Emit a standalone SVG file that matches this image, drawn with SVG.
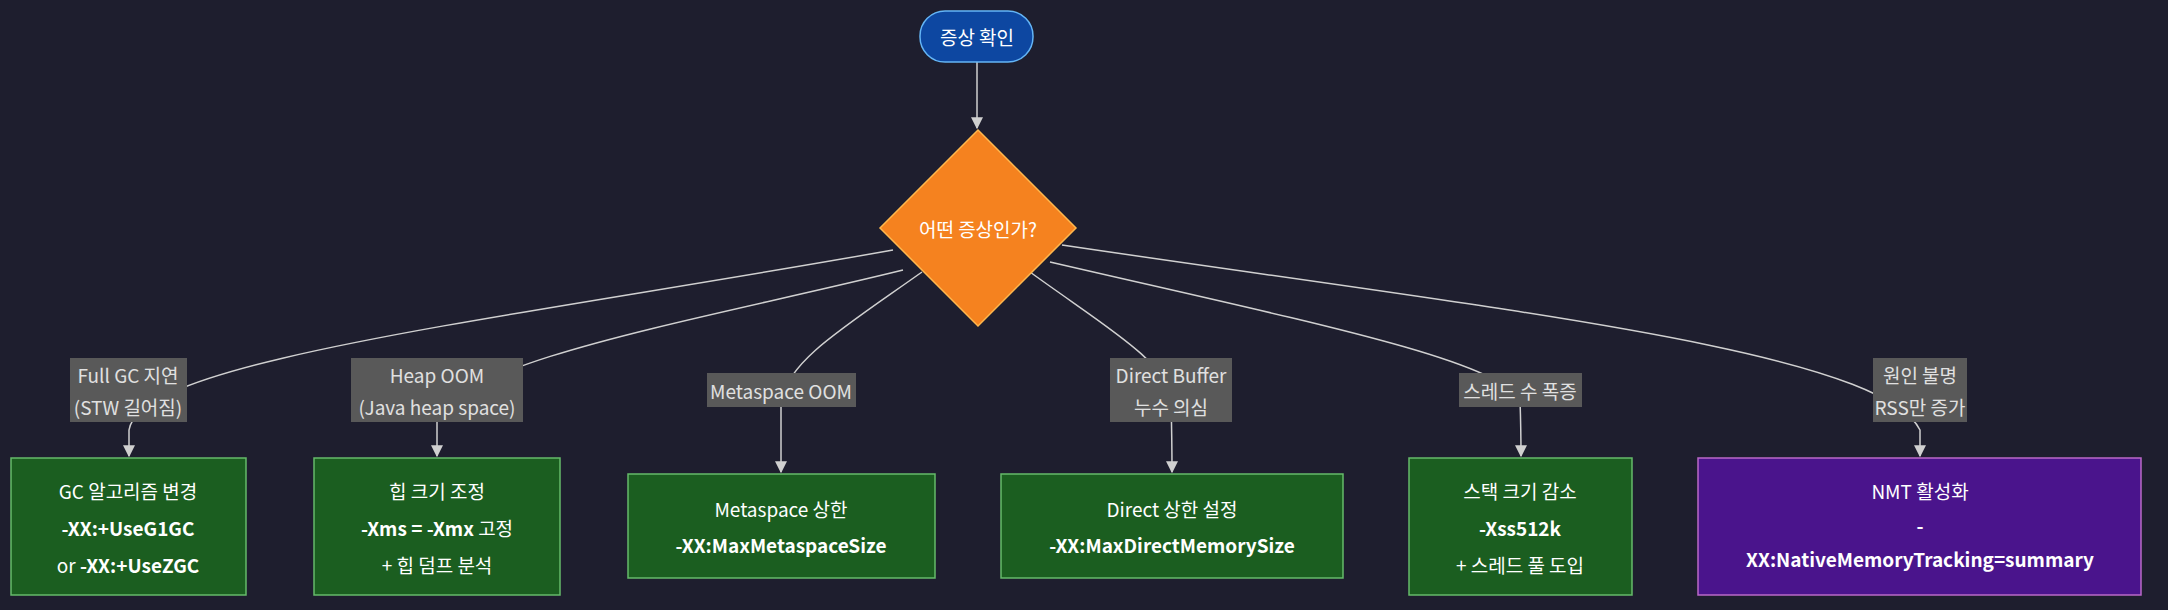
<svg xmlns="http://www.w3.org/2000/svg" width="2168" height="610" viewBox="0 0 2168 610">
<style>
text{font-family:"Noto Sans CJK KR","Noto Sans",sans-serif;font-size:19px;fill:#fff;text-anchor:middle;dominant-baseline:central}
.e{fill:none;stroke:#d0d0d0;stroke-width:1.5}
.lb rect{fill:#595959}
.lb text{fill:#e0e0e0}
.g rect{fill:#1b5e20;stroke:#66bb6a;stroke-width:1.5}
.b{font-weight:bold}
</style>
<defs><marker id="a" viewBox="0 0 10 10" refX="9" refY="5" markerWidth="8" markerHeight="8" orient="auto"><path d="M0,0L10,5L0,10z" fill="#d0d0d0"/></marker></defs>
<rect width="2168" height="610" fill="#1e1e2e"/>
<g id="edges">
<path class="e" marker-end="url(#a)" d="M977,62L977,128"/>
<path class="e" marker-end="url(#a)" d="M893,250C500,320 140,360 129,430C129,440 129,448 129,456"/>
<path class="e" marker-end="url(#a)" d="M903,270C700,320 460,360 437,420C437,440 437,448 437,456"/>
<path class="e" marker-end="url(#a)" d="M922,272C840,330 790,360 781,400C781,440 781,460 781,472"/>
<path class="e" marker-end="url(#a)" d="M1030,272C1110,330 1165,360 1171,400C1172,440 1172,460 1172,472"/>
<path class="e" marker-end="url(#a)" d="M1050,262C1300,320 1500,360 1520,400C1521,430 1521,445 1521,456"/>
<path class="e" marker-end="url(#a)" d="M1062,245C1500,310 1880,350 1920,430C1920,440 1920,448 1920,456"/>
</g>
<g id="start"><rect x="920" y="11" width="113" height="51" rx="25" fill="#0d47a1" stroke="#64b5f6" stroke-width="1.5"/><text x="977" y="36">증상 확인</text></g>
<g id="decision"><path d="M978,130L1076,228L978,326L880,228Z" fill="#f5821f" stroke="#ffb74d" stroke-width="1.5"/><text x="978" y="228">어떤 증상인가?</text></g>
<g class="lb" id="l1"><rect x="70" y="358" width="117" height="64"/><text x="128" y="374">Full GC 지연</text><text x="128" y="406">(STW 길어짐)</text></g>
<g class="lb" id="l2"><rect x="351" y="358" width="172" height="64"/><text x="437" y="374">Heap OOM</text><text x="437" y="406">(Java heap space)</text></g>
<g class="lb" id="l3"><rect x="707" y="373" width="149" height="34"/><text x="781" y="390">Metaspace OOM</text></g>
<g class="lb" id="l4"><rect x="1110" y="358" width="122" height="64"/><text x="1171" y="374">Direct Buffer</text><text x="1171" y="406">누수 의심</text></g>
<g class="lb" id="l5"><rect x="1459" y="373" width="123" height="34"/><text x="1520" y="390">스레드 수 폭증</text></g>
<g class="lb" id="l6"><rect x="1873" y="358" width="94" height="64"/><text x="1920" y="374">원인 불명</text><text x="1920" y="406">RSS만 증가</text></g>
<g class="g" id="n1"><rect x="11" y="458" width="235" height="137"/><text x="128" y="490">GC 알고리즘 변경</text><text x="128" y="527" class="b">-XX:+UseG1GC</text><text x="128" y="564">or <tspan class="b">-XX:+UseZGC</tspan></text></g>
<g class="g" id="n2"><rect x="314" y="458" width="246" height="137"/><text x="437" y="490">힙 크기 조정</text><text x="437" y="527"><tspan class="b">-Xms = -Xmx</tspan> 고정</text><text x="437" y="564">+ 힙 덤프 분석</text></g>
<g class="g" id="n3"><rect x="628" y="474" width="307" height="104"/><text x="781" y="508">Metaspace 상한</text><text x="781" y="544" class="b">-XX:MaxMetaspaceSize</text></g>
<g class="g" id="n4"><rect x="1001" y="474" width="342" height="104"/><text x="1172" y="508">Direct 상한 설정</text><text x="1172" y="544" class="b">-XX:MaxDirectMemorySize</text></g>
<g class="g" id="n5"><rect x="1409" y="458" width="223" height="137"/><text x="1520" y="490">스택 크기 감소</text><text x="1520" y="527" class="b">-Xss512k</text><text x="1520" y="564">+ 스레드 풀 도입</text></g>
<g id="n6"><rect x="1698" y="458" width="443" height="137" fill="#4a148c" stroke="#ba68c8" stroke-width="1.5"/><text x="1920" y="490">NMT 활성화</text><text x="1920" y="524" class="b">-</text><text x="1920" y="558" class="b">XX:NativeMemoryTracking=summary</text></g>
</svg>
